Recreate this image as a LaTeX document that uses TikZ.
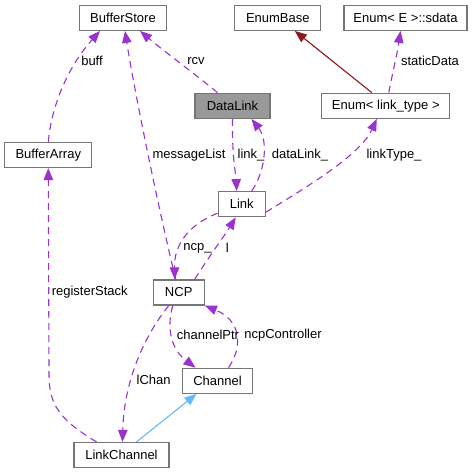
\documentclass[tikz,border=0pt]{standalone}
\usepackage{fontspec}
\setmainfont{Liberation Sans}
\usepackage{xcolor}
\usetikzlibrary{arrows.meta}
\definecolor{DepPurple}{RGB}{154,50,205}
\definecolor{BaseRed}{RGB}{139,26,26}
\definecolor{BaseBlue}{RGB}{99,184,255}
\definecolor{BoxGray}{RGB}{118,118,118}
\definecolor{FocusGray}{RGB}{153,153,153}

\begin{document}
\begin{tikzpicture}[x=1bp, y=-1bp,
  every node/.style={font=\fontsize{13bp}{15bp}\selectfont},
  cls/.style={draw=BoxGray, line width=1.3bp, fill=white, minimum height=25bp, inner sep=0pt},
  dep/.style={draw=DepPurple, line width=1.1bp, dash pattern=on 7bp off 5bp, -{Triangle[length=12bp, width=9.5bp]}},
  inh/.style={line width=1.1bp, -{Triangle[length=12bp, width=9.5bp]}},
  lbl/.style={inner sep=1pt}]
\useasboundingbox (0,0) rectangle (473,473);
\node[cls, minimum width=87bp] (bstore) at (123,17.8) {BufferStore};
\node[cls, minimum width=86bp] (enumbase) at (277.8,17.8) {EnumBase};
\node[cls, minimum width=123bp] (sdata) at (405.5,17.8) {Enum< E >::sdata};
\node[cls, minimum width=75bp, fill=FocusGray] (dlink) at (232.5,105.8) {DataLink};
\node[cls, minimum width=128bp] (enumlt) at (385.8,105.8) {Enum< link\_type >};
\node[cls, minimum width=87bp] (barray) at (48.3,155) {BufferArray};
\node[cls, minimum width=47bp] (link) at (241.7,204.2) {Link};
\node[cls, minimum width=51bp] (ncp) at (178.7,292.5) {NCP};
\node[cls, minimum width=70bp] (chan) at (217.5,380.8) {Channel};
\node[cls, minimum width=95bp] (lchan) at (121.5,455) {LinkChannel};

% members
\draw[dep] (barray.north) .. controls (52,100) and (72,62) .. ([xshift=-23bp]bstore.south);
\draw[dep] ([xshift=-3bp]ncp.north) .. controls (160,215) and (135,95) .. ([xshift=2bp]bstore.south);
\draw[dep] ([xshift=-15bp]dlink.north) .. controls (200,78) and (165,52) .. ([xshift=17bp]bstore.south);
\draw[dep] ([xshift=3bp]enumlt.north) .. controls (392,75) and (397,55) .. ([xshift=-5bp]sdata.south);
\draw[dep] (dlink.south) .. controls (232,160) and (236,175) .. ([xshift=-5bp]link.north);
\draw[dep] ([xshift=10bp]link.north) .. controls (266,170) and (268,140) .. ([xshift=19bp]dlink.south);
\draw[dep] ([yshift=-8bp]link.east) .. controls (310,185) and (360,155) .. ([xshift=-9bp]enumlt.south);
\draw[dep] ([yshift=-9bp]link.west) .. controls (188,225) and (174,245) .. ([xshift=-4bp]ncp.north);
\draw[dep] ([xshift=16bp]ncp.north) .. controls (210,255) and (225,235) .. ([xshift=-6bp]link.south);
\draw[dep] ([xshift=-25bp]lchan.north) .. controls (60,420) and (49,405) .. (49,375) -- (barray.south);
\draw[dep] ([xshift=-6bp]ncp.south) .. controls (166,330) and (172,350) .. ([xshift=-22bp]chan.north);
\draw[dep] ([xshift=11bp]chan.north) .. controls (244,345) and (240,320) .. (ncp.south east);
\draw[dep] ([xshift=-10bp]ncp.south) .. controls (145,335) and (124,380) .. ([xshift=1bp]lchan.north);

% bases
\draw[inh, draw=BaseRed, fill=BaseRed] ([xshift=-14bp]enumlt.north) -- ([xshift=17bp]enumbase.south);
\draw[inh, draw=BaseBlue, fill=BaseBlue] ([xshift=15bp]lchan.north) -- ([xshift=-21bp]chan.south);

\node[lbl] (lbuff) at (92,61) {buff};
\node[lbl] (lmsg) at (189,155) {messageList};
\node[lbl] (lrcv) at (196,61) {rcv};
\node[lbl] (lstatic) at (430,61) {staticData};
\node[lbl] (llink) at (251,155) {link\_};
\node[lbl] (ldlink) at (300,155) {dataLink\_};
\node[lbl] (ltype) at (394,155) {linkType\_};
\node[lbl] (lncp) at (197.5,248) {ncp\_};
\node[lbl] (ll) at (227.3,248) {l};
\node[lbl] (lreg) at (89.7,292) {registerStack};
\node[lbl] (lptr) at (208,335) {channelPtr};
\node[lbl] (lctrl) at (283,335) {ncpController};
\node[lbl] (lchn) at (153.7,380) {lChan};
\end{tikzpicture}
\end{document}
